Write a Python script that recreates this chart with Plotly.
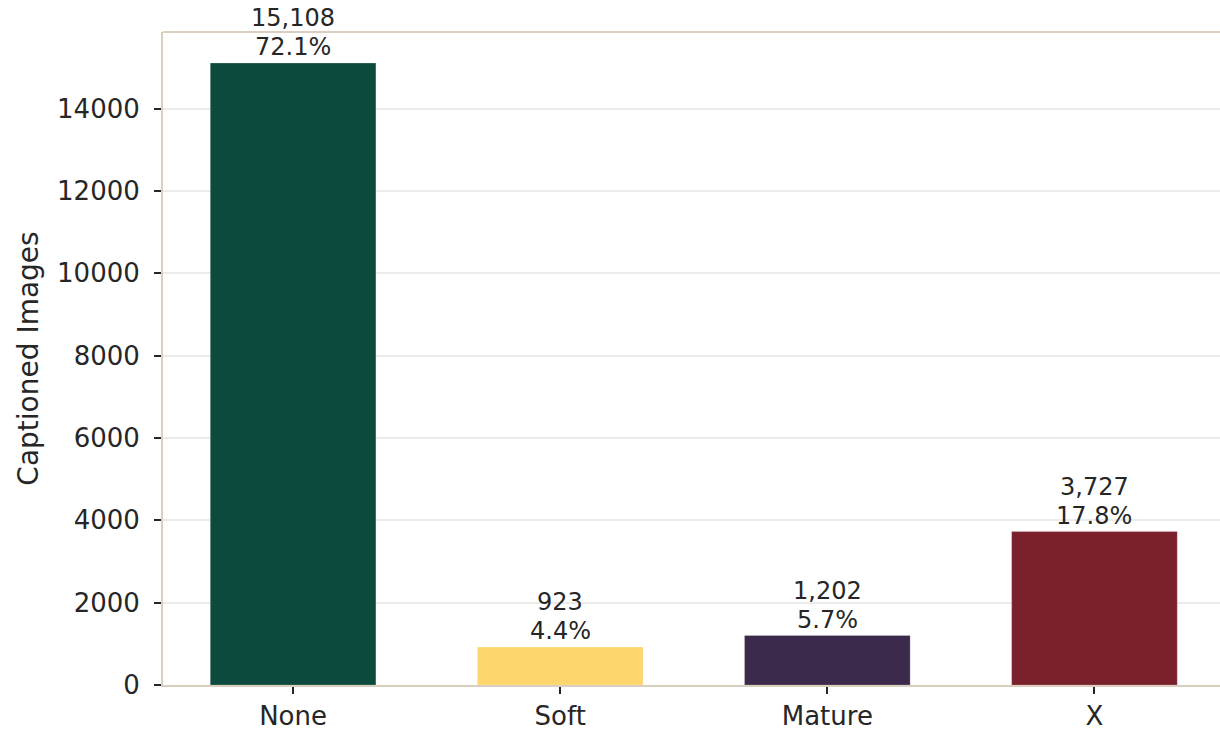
import plotly.graph_objects as go

# Content rating categories and captioned-image counts
categories = ["None", "Soft", "Mature", "X"]
counts = [15108, 923, 1202, 3727]
bar_colors = ["#0d4a3e", "#fed66e", "#3b2a4b", "#7a202d"]
y_tick_values = [0, 2000, 4000, 6000, 8000, 10000, 12000, 14000]

total = sum(counts)
x_pos = list(range(len(categories)))

FONT = "DejaVu Sans"
TEXT = "#262626"
SPINE = "#d8cfbf"

fig = go.Figure()
fig.add_trace(go.Bar(
    x=x_pos,
    y=counts,
    width=0.62,
    marker=dict(color=bar_colors,
                line=dict(color="rgba(255,255,255,0.2)", width=1)),
    hoverinfo="skip",
))

# Count (upper line) and share (lower line) labels above each bar
for xi, v in zip(x_pos, counts):
    fig.add_annotation(
        x=xi, y=v, xref="x", yref="y",
        text=f"{v / total * 100:.1f}%",
        showarrow=False, yanchor="bottom", yshift=0,
        font=dict(family=FONT, size=24, color=TEXT),
    )
    fig.add_annotation(
        x=xi, y=v, xref="x", yref="y",
        text=f"{v:,}",
        showarrow=False, yanchor="bottom", yshift=29,
        font=dict(family=FONT, size=24, color=TEXT),
    )

# Top frame line (no right-hand frame)
fig.add_shape(type="line", xref="paper", yref="paper",
              x0=0, x1=1, y0=1, y1=1,
              line=dict(color=SPINE, width=2))

fig.update_layout(
    width=1220, height=731,
    margin=dict(l=163, r=0, t=32, b=46),
    paper_bgcolor="white", plot_bgcolor="white",
    showlegend=False,
    font=dict(family=FONT, size=26, color=TEXT),
)

fig.update_xaxes(
    range=[-0.487, 3.47],
    tickvals=x_pos, ticktext=categories,
    ticks="outside", ticklen=7, tickwidth=2, tickcolor=TEXT,
    tickfont=dict(family=FONT, size=26, color=TEXT),
    showline=True, linecolor=SPINE, linewidth=2, mirror=False,
    showgrid=False, zeroline=False,
)
fig.update_yaxes(
    range=[0, 15863],
    tickvals=y_tick_values, tickformat="d",
    ticks="outside", ticklen=7, tickwidth=2, tickcolor=TEXT,
    ticklabelstandoff=9,
    tickfont=dict(family=FONT, size=26, color=TEXT),
    showline=True, linecolor=SPINE, linewidth=2, mirror=False,
    showgrid=True, gridcolor="#ebebeb", gridwidth=1.5,
    zeroline=False,
    title=dict(text="Captioned Images", standoff=10,
               font=dict(family=FONT, size=28, color=TEXT)),
)

fig.write_html("out.html")
